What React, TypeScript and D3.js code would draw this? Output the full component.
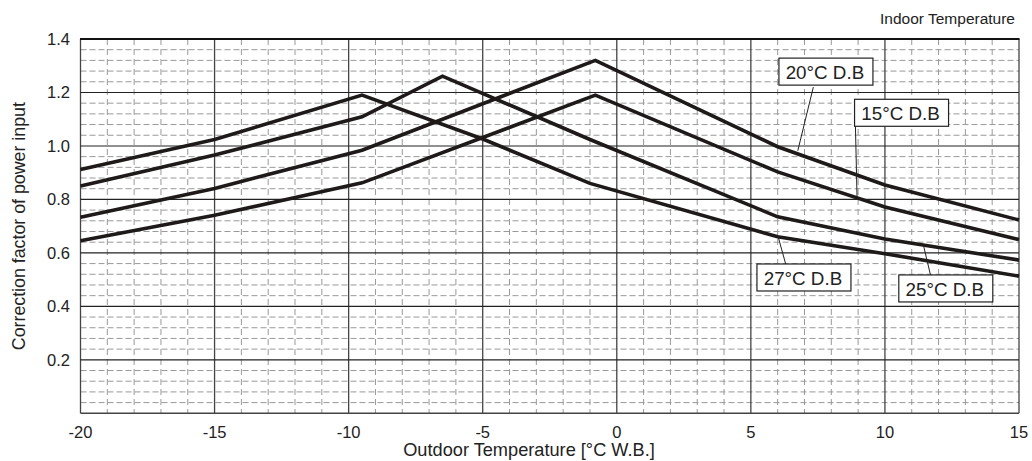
import React from "react";
import * as d3 from "d3";

// Outdoor temperature [°C W.B.] breakpoints and correction factors per indoor temperature
const xTicks = [-20, -15, -10, -5, 0, 5, 10, 15];
const yTicks = [0.2, 0.4, 0.6, 0.8, 1.0, 1.2, 1.4];

const x27 = [-20, -15, -9.5, -5, -1, 6, 10, 15];
const y27 = [0.912, 1.024, 1.19, 1.026, 0.86, 0.66, 0.597, 0.513];

const x25 = [-20, -15, -9.5, -6.5, -1, 6, 10, 15];
const y25 = [0.85, 0.966, 1.109, 1.261, 1.024, 0.735, 0.652, 0.573];

const x20 = [-20, -15, -9.5, -0.8, 6, 10, 15];
const y20 = [0.733, 0.841, 0.984, 1.32, 0.997, 0.854, 0.723];

const x15 = [-20, -15, -9.5, -0.8, 6, 10, 15];
const y15 = [0.645, 0.741, 0.862, 1.19, 0.903, 0.772, 0.65];

const seriesNames = ["27°C D.B", "25°C D.B", "20°C D.B", "15°C D.B"];
const seriesX = [x27, x25, x20, x15];
const seriesY = [y27, y25, y20, y15];

// label placement (data coords): box centre, leader start, leader end
const labelBox = [
  [6.98, 0.508],
  [12.27, 0.467],
  [7.8, 1.278],
  [10.62, 1.124],
];
const leaderFrom = [
  [6.3, 0.558],
  [11.7, 0.517],
  [7.33, 1.22],
  [8.9, 1.074],
];
const leaderTo = [
  [6.0, 0.667],
  [11.45, 0.623],
  [6.75, 0.982],
  [8.96, 0.81],
];

const W = 1032;
const H = 461;
const left = 80.5;
const right = 1019;
const top = 39;
const bottom = 413.3;
const FONT = "'Liberation Sans', Arial, Helvetica, sans-serif";

export default function App() {
  const x = d3.scaleLinear().domain([-20, 15]).range([left, right]);
  const y = d3.scaleLinear().domain([0, 1.4]).range([bottom, top]);

  const minorX = d3.range(-20, 15.001, 1).filter((v) => Math.abs(v % 5) > 1e-6);
  const minorY = d3
    .range(0, 71)
    .map((i) => i * 0.04)
    .filter((v) => v < 1.4 - 1e-6 && v > 1e-6)
    .filter((v) => Math.abs(Math.round(v / 0.2) * 0.2 - v) > 1e-6);

  const line = d3
    .line<[number, number]>()
    .x((d) => x(d[0]))
    .y((d) => y(d[1]));

  const boxW = 94;
  const boxH = 27;

  return (
    <svg
      width={W}
      height={H}
      style={{ position: "absolute", left: 0, top: 0, background: "#fff" }}
      fontFamily={FONT}
    >
      <rect x={0} y={0} width={W} height={H} fill="#fff" />
      {/* minor grid */}
      {minorX.map((v) => (
        <line
          key={"mx" + v}
          x1={x(v)}
          x2={x(v)}
          y1={top}
          y2={bottom}
          stroke="#999"
          strokeWidth={1}
          strokeDasharray="6,4"
        />
      ))}
      {minorY.map((v) => (
        <line
          key={"my" + v}
          x1={left}
          x2={right}
          y1={y(v)}
          y2={y(v)}
          stroke="#999"
          strokeWidth={1}
          strokeDasharray="6,3"
        />
      ))}
      {/* major grid */}
      {xTicks.map((v) => (
        <line
          key={"Mx" + v}
          x1={x(v)}
          x2={x(v)}
          y1={top}
          y2={bottom}
          stroke="#444"
          strokeWidth={1.3}
        />
      ))}
      {yTicks.map((v) => (
        <line
          key={"My" + v}
          x1={left}
          x2={right}
          y1={y(v)}
          y2={y(v)}
          stroke="#222"
          strokeWidth={1.1}
        />
      ))}
      <line x1={left} x2={right} y1={bottom} y2={bottom} stroke="#444" strokeWidth={1.5} />
      <line x1={left - 0.5} x2={right + 0.5} y1={top} y2={top} stroke="#111" strokeWidth={2} />

      {/* curves */}
      {seriesX.map((xs, i) => (
        <path
          key={"s" + i}
          d={line(xs.map((v, j) => [v, seriesY[i][j]] as [number, number])) || ""}
          fill="none"
          stroke="#1e1a1a"
          strokeWidth={3.6}
          strokeLinejoin="miter"
        />
      ))}

      {/* labels */}
      {seriesNames.map((name, i) => {
        const cx = x(labelBox[i][0]);
        const cy = y(labelBox[i][1]);
        return (
          <g key={"l" + i}>
            <line
              x1={x(leaderFrom[i][0])}
              y1={y(leaderFrom[i][1])}
              x2={x(leaderTo[i][0])}
              y2={y(leaderTo[i][1])}
              stroke="#222"
              strokeWidth={1}
            />
            <rect
              x={cx - boxW / 2}
              y={cy - boxH / 2}
              width={boxW}
              height={boxH}
              fill="#fff"
              stroke="#222"
              strokeWidth={1.2}
            />
            <text
              x={cx - 1}
              y={cy + 7.2}
              textAnchor="middle"
              fontSize={18.8}
              fill="#222"
            >
              {name}
            </text>
          </g>
        );
      })}

      {/* axes labels */}
      {yTicks.map((v) => (
        <text
          key={"yt" + v}
          x={70}
          y={y(v) + 6}
          textAnchor="end"
          fontSize={16.5}
          fill="#222"
        >
          {v.toFixed(1)}
        </text>
      ))}
      {xTicks.map((v) => (
        <text
          key={"xt" + v}
          x={x(v)}
          y={437.5}
          textAnchor="middle"
          fontSize={16.5}
          fill="#222"
        >
          {v}
        </text>
      ))}
      <text x={529} y={456} textAnchor="middle" fontSize={18.2} fill="#222">
        Outdoor Temperature [°C W.B.]
      </text>
      <text
        transform={`translate(24.5,${(top + bottom) / 2}) rotate(-90)`}
        textAnchor="middle"
        fontSize={17.8}
        fill="#222"
      >
        Correction factor of power input
      </text>
      <text x={1015} y={24} textAnchor="end" fontSize={15.5} fill="#222">
        Indoor Temperature
      </text>
    </svg>
  );
}
